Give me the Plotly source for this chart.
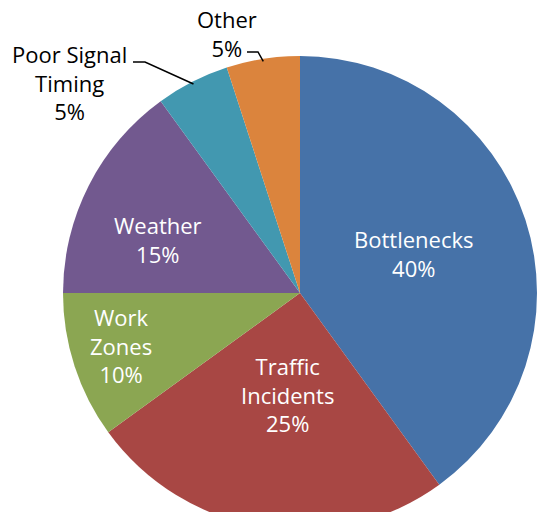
import math
import plotly.graph_objects as go

# ---- data ----
labels = ["Bottlenecks", "Traffic<br>Incidents", "Work<br>Zones", "Weather",
          "Poor Signal<br>Timing", "Other"]
values = [40, 25, 10, 15, 5, 5]
colors = ["#4672A8", "#A84744", "#8BA652", "#72598F", "#4298B0", "#DB843D"]

WF, HF = 553, 540            # figure size (bottom part falls outside the window)
CX, CY, R = 300, 293, 237    # pie centre / radius in screen pixels


def px(x):
    return x / WF


def py(y):
    return 1 - y / HF


fig = go.Figure(go.Pie(
    labels=[l.replace("<br>", " ") for l in labels],
    values=values,
    sort=False,
    direction="clockwise",
    rotation=0,
    marker=dict(colors=colors, line=dict(width=0)),
    textinfo="none",
    hoverinfo="label+percent",
    showlegend=False,
    domain=dict(x=[px(CX - R), px(CX + R)], y=[py(CY + R), py(CY - R)]),
))

total = sum(values)
pct = [f"{round(v / total * 100)}%" for v in values]

# label positions (screen pixels) and colours
label_pos = [(413, 254), (287, 394), (121, 345), (158, 239), (69, 83), (227, 33)]
label_col = ["white", "white", "white", "white", "black", "black"]

for lab, p, (x, y), c in zip(labels, pct, label_pos, label_col):
    fig.add_annotation(
        x=px(x), y=py(y), xref="paper", yref="paper",
        text=f"{lab}<br>{p}", showarrow=False,
        font=dict(family="Open Sans", size=22, color=c),
        xanchor="center", yanchor="middle", align="center",
    )

# leader lines for the two small outside-labelled slices
cum = 0
mids = []
for v in values:
    mids.append((cum + v / 2) / total * 2 * math.pi)
    cum += v


def rim(theta, f=1.0):
    return CX + f * R * math.sin(theta), CY - f * R * math.cos(theta)


leaders = {4: [(133, 62), (145, 62)], 5: [(247, 52), (258, 52)]}
for idx, pts in leaders.items():
    rx, ry = rim(mids[idx], 0.99)
    path_pts = pts + [(rx, ry)]
    d = "M " + " L ".join(f"{px(a):.5f},{py(b):.5f}" for a, b in path_pts)
    fig.add_shape(type="path", path=d, xref="paper", yref="paper",
                  line=dict(color="black", width=1.5))

fig.update_layout(
    width=WF, height=HF,
    margin=dict(l=0, r=0, t=0, b=0),
    paper_bgcolor="white", plot_bgcolor="white",
)

fig.write_html(
    "out.html",
    config={"displayModeBar": False},
    post_script="document.body.style.margin='0';document.body.style.overflow='hidden';",
)
